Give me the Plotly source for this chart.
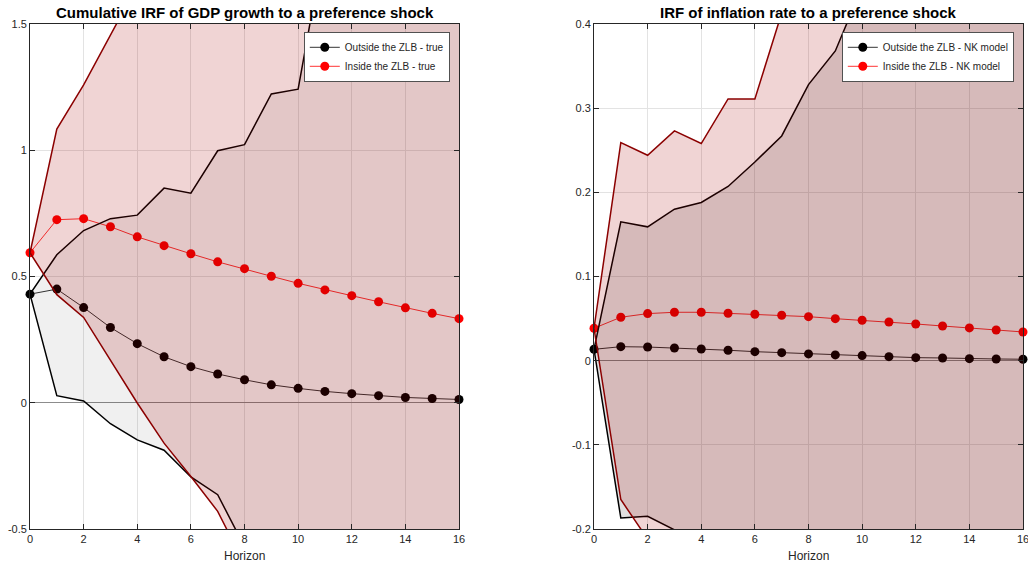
import plotly.graph_objects as go

horizon = list(range(17))

# cumulative GDP growth IRF (left panel)
gdp_out = [0.43, 0.45, 0.377, 0.298, 0.234, 0.182, 0.143, 0.114, 0.091, 0.071,
           0.057, 0.045, 0.036, 0.028, 0.021, 0.017, 0.013]
gdp_in = [0.594, 0.725, 0.729, 0.697, 0.657, 0.622, 0.59, 0.558, 0.531, 0.501,
          0.473, 0.447, 0.424, 0.40, 0.376, 0.354, 0.333]
gdp_out_hi = [0.43, 0.586, 0.682, 0.729, 0.743, 0.85, 0.83, 0.998, 1.022, 1.223,
              1.242, 1.83, 2.0, 2.2, 2.35, 2.5, 2.6]
gdp_out_lo = [0.43, 0.028, 0.007, -0.083, -0.147, -0.188, -0.294, -0.364, -0.57, -0.7,
              -0.8, -0.9, -1.0, -1.1, -1.2, -1.3, -1.4]
gdp_in_hi = [0.594, 1.084, 1.259, 1.454, 1.65, 1.85, 2.0, 2.15, 2.3, 2.45,
             2.6, 2.75, 2.9, 3.0, 3.1, 3.2, 3.3]
gdp_in_lo = [0.594, 0.428, 0.338, 0.168, -0.001, -0.16, -0.292, -0.43, -0.64, -0.8,
             -0.95, -1.1, -1.2, -1.3, -1.4, -1.5, -1.6]

# inflation IRF (right panel)
inf_out = [0.0135, 0.0166, 0.0162, 0.0151, 0.0139, 0.0124, 0.0107, 0.0095, 0.008, 0.0068,
           0.006, 0.0048, 0.0036, 0.0032, 0.0024, 0.002, 0.0017]
inf_in = [0.0385, 0.0516, 0.0559, 0.0575, 0.0575, 0.0563, 0.0551, 0.0539, 0.0523, 0.0499,
          0.048, 0.046, 0.0436, 0.0412, 0.0389, 0.0365, 0.0341]
inf_out_hi = [0.0135, 0.165, 0.159, 0.18, 0.188, 0.207, 0.236, 0.267, 0.328, 0.368,
              0.444, 0.5, 0.55, 0.6, 0.65, 0.7, 0.75]
inf_out_lo = [0.0135, -0.187, -0.185, -0.201, -0.22, -0.25, -0.28, -0.31, -0.34, -0.37,
              -0.4, -0.43, -0.46, -0.49, -0.52, -0.55, -0.58]
inf_in_hi = [0.0385, 0.259, 0.244, 0.273, 0.258, 0.311, 0.311, 0.413, 0.5, 0.55,
             0.6, 0.65, 0.7, 0.75, 0.8, 0.85, 0.9]
inf_in_lo = [0.0385, -0.165, -0.212, -0.25, -0.28, -0.31, -0.34, -0.37, -0.4, -0.43,
             -0.46, -0.49, -0.52, -0.55, -0.58, -0.61, -0.64]

x_ticks = [0, 2, 4, 6, 8, 10, 12, 14, 16]
gdp_ticks = [-0.5, 0, 0.5, 1, 1.5]
gdp_ticktext = ['-0.5', '0', '0.5', '1', '1.5']
inf_ticks = [-0.2, -0.1, 0, 0.1, 0.2, 0.3, 0.4]
inf_ticktext = ['-0.2', '-0.1', '0', '0.1', '0.2', '0.3', '0.4']

FONT = 'Liberation Sans, Arial, sans-serif'
DARKRED = '#8b0000'


def add_panel(fig, xa, ya, legend, names, pts, bands, gray_alpha):
    out, inn = pts
    # point series first so the bands tint them, as in the original
    fig.add_trace(go.Scatter(x=horizon, y=out, name=names[0], mode='lines+markers',
                             line=dict(color='black', width=0.8),
                             marker=dict(color='black', size=9), cliponaxis=False,
                             xaxis=xa, yaxis=ya, legend=legend))
    fig.add_trace(go.Scatter(x=horizon, y=inn, name=names[1], mode='lines+markers',
                             line=dict(color='red', width=0.8),
                             marker=dict(color='red', size=9), cliponaxis=False,
                             xaxis=xa, yaxis=ya, legend=legend))
    (olo, ohi), (ilo, ihi) = bands
    fig.add_trace(go.Scatter(x=horizon, y=olo, mode='lines', showlegend=False,
                             line=dict(color='black', width=1.5), xaxis=xa, yaxis=ya))
    fig.add_trace(go.Scatter(x=horizon, y=ohi, mode='lines', showlegend=False, fill='tonexty',
                             fillcolor='rgba(0,0,0,%s)' % gray_alpha,
                             line=dict(color='black', width=1.5), xaxis=xa, yaxis=ya))
    fig.add_trace(go.Scatter(x=horizon, y=ilo, mode='lines', showlegend=False,
                             line=dict(color=DARKRED, width=1.5), xaxis=xa, yaxis=ya))
    fig.add_trace(go.Scatter(x=horizon, y=ihi, mode='lines', showlegend=False, fill='tonexty',
                             fillcolor='rgba(166,0,0,0.17)',
                             line=dict(color=DARKRED, width=1.5), xaxis=xa, yaxis=ya))


fig = go.Figure()
add_panel(fig, 'x', 'y', 'legend', ['Outside the ZLB - true', 'Inside the ZLB - true'],
          (gdp_out, gdp_in), ((gdp_out_lo, gdp_out_hi), (gdp_in_lo, gdp_in_hi)), 0.06)
add_panel(fig, 'x2', 'y2', 'legend2', ['Outside the ZLB - NK model', 'Inside the ZLB - NK model'],
          (inf_out, inf_in), ((inf_out_lo, inf_out_hi), (inf_in_lo, inf_in_hi)), 0.12)

W, H = 1028, 563
ydom = [1 - 529 / H, 1 - 24 / H]
axis_style = dict(showline=True, linecolor='#262626', linewidth=0.8, mirror='ticks',
                  ticks='inside', ticklen=5, tickcolor='#262626', automargin=False,
                  ticklabeloverflow='allow',
                  showgrid=True, gridcolor='#e3e3e3', gridwidth=0.8,
                  tickfont=dict(family=FONT, size=11, color='#262626'))
legend_style = dict(xanchor='right', yanchor='top', traceorder='normal',
                    bgcolor='white', bordercolor='#262626', borderwidth=0.8,
                    font=dict(family=FONT, size=10, color='#262626'),
                    tracegroupgap=0, itemwidth=30)


def label(text, x, y, size, color):
    return dict(text=text, x=x / W, y=1 - y / H, xref='paper', yref='paper',
                xanchor='center', yanchor='middle', showarrow=False,
                font=dict(family=FONT, size=size, color=color))


fig.update_layout(
    width=W, height=H,
    margin=dict(l=0, r=0, t=0, b=0, autoexpand=False),
    paper_bgcolor='white', plot_bgcolor='white',
    font=dict(family=FONT, color='#262626'),
    xaxis=dict(domain=[30 / W, 459 / W], range=[0, 16], tickvals=x_ticks,
               zeroline=False, anchor='y', **axis_style),
    yaxis=dict(domain=ydom, range=[-0.5, 1.5], tickvals=gdp_ticks, ticktext=gdp_ticktext,
               zeroline=True, zerolinecolor='#8c8c8c', zerolinewidth=1, anchor='x', **axis_style),
    xaxis2=dict(domain=[594 / W, 1023 / W], range=[0, 16], tickvals=x_ticks,
                zeroline=False, anchor='y2', **axis_style),
    yaxis2=dict(domain=ydom, range=[-0.2, 0.4], tickvals=inf_ticks, ticktext=inf_ticktext,
                zeroline=True, zerolinecolor='#8c8c8c', zerolinewidth=1, anchor='x2', **axis_style),
    legend=dict(x=450 / W, y=1 - 32 / H, **legend_style),
    legend2=dict(x=1014 / W, y=1 - 32 / H, **legend_style),
    annotations=[
        label('<b>Cumulative IRF of GDP growth to a preference shock</b>', (30 + 459) / 2, 13, 15, 'black'),
        label('<b>IRF of inflation rate to a preference shock</b>', (594 + 1023) / 2, 13, 15, 'black'),
        label('Horizon', (30 + 459) / 2, 556, 12, '#262626'),
        label('Horizon', (594 + 1023) / 2, 556, 12, '#262626'),
    ],
)

# drop the page's default body margin so the figure sits at the window corner
fig.write_html("out.html", config={'displayModeBar': False},
               post_script="document.body.style.margin = '0';")
